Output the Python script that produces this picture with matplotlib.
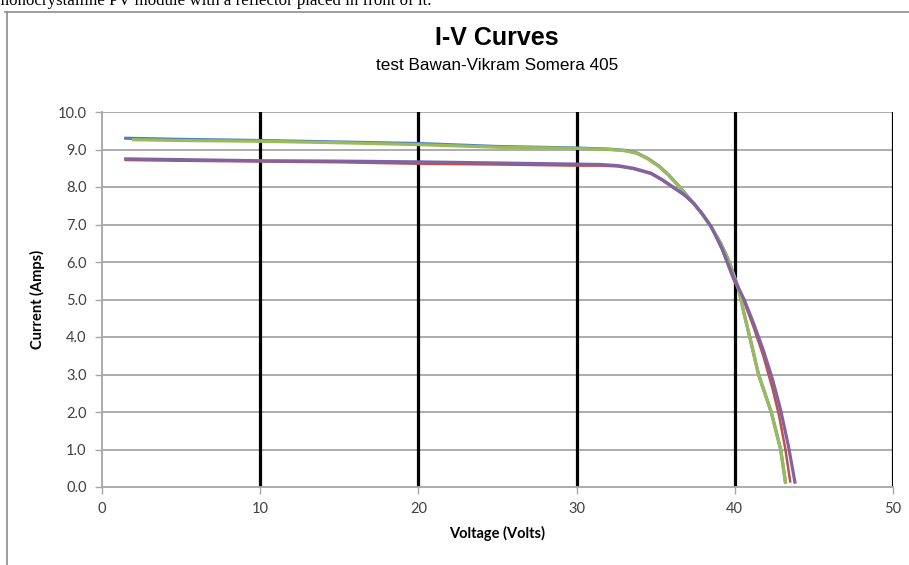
import matplotlib
matplotlib.use('Agg')
import matplotlib.pyplot as plt
from matplotlib.lines import Line2D

W, H = 909, 565

# upper curves (blue and green), lower curves (red and purple)
v_blue = [1.5, 5, 10, 15, 20, 25, 30, 32, 33, 33.8, 34.5, 35.2, 35.8, 36.5, 37.2, 37.9, 38.5, 39.1, 39.6, 40.2, 40.6, 41.0, 41.5, 42.3, 42.9, 43.2]
i_blue = [9.30, 9.27, 9.24, 9.20, 9.16, 9.08, 9.04, 9.01, 8.98, 8.91, 8.76, 8.56, 8.33, 8.01, 7.66, 7.31, 6.94, 6.51, 6.06, 5.34, 4.6, 3.9, 3.0, 2.0, 1.0, 0.13]
v_green = [2.0, 5, 10, 15, 20, 25, 30, 32, 33, 33.8, 34.5, 35.2, 35.8, 36.5, 37.2, 37.9, 38.5, 39.1, 39.6, 40.2, 40.6, 41.0, 41.5, 42.3, 42.9, 43.2]
i_green = [9.26, 9.24, 9.22, 9.18, 9.13, 9.06, 9.03, 9.00, 8.97, 8.90, 8.75, 8.55, 8.32, 8.00, 7.65, 7.30, 6.93, 6.50, 6.05, 5.33, 4.6, 3.9, 3.0, 2.0, 1.0, 0.13]
v_red = [1.5, 5, 10, 15, 20, 25, 30, 31.5, 32.6, 33.6, 34.7, 35.4, 36.1, 36.8, 37.4, 38.0, 38.5, 39.2, 39.9, 40.6, 41.2, 41.8, 42.4, 42.8, 43.2, 43.5]
i_red = [8.72, 8.70, 8.68, 8.66, 8.62, 8.60, 8.57, 8.57, 8.55, 8.48, 8.35, 8.18, 7.98, 7.78, 7.55, 7.24, 6.95, 6.33, 5.55, 4.93, 4.25, 3.5, 2.6, 1.9, 1.0, 0.15]
v_purple = [1.5, 5, 10, 15, 20, 25, 30, 31.5, 32.6, 33.6, 34.7, 35.4, 36.1, 36.8, 37.4, 38.0, 38.5, 39.2, 39.9, 40.6, 41.2, 41.8, 42.4, 42.9, 43.4, 43.8]
i_purple = [8.75, 8.73, 8.70, 8.69, 8.67, 8.64, 8.61, 8.60, 8.57, 8.50, 8.37, 8.20, 8.00, 7.80, 7.57, 7.25, 6.95, 6.35, 5.60, 4.99, 4.35, 3.65, 2.85, 2.05, 1.07, 0.13]

x_ticks = [0, 10, 20, 30, 40, 50]
y_ticks = [0, 1, 2, 3, 4, 5, 6, 7, 8, 9, 10]

fig = plt.figure(figsize=(W/100, H/100), dpi=100)
ax = fig.add_axes([102/W, (H-487)/H, (893-102)/W, (487-112)/H])

for y in y_ticks[1:]:
    ax.axhline(y, color='#a6a6a6', lw=1.3, zorder=1)
for x in x_ticks[1:]:
    ax.axvline(x, color='black', lw=2.3, zorder=2)

ax.plot(v_blue, i_blue, color='#4F81BD', lw=2.3, zorder=3, solid_joinstyle='round')
ax.plot(v_red, i_red, color='#C0504D', lw=1.8, zorder=3, solid_joinstyle='round')
ax.plot(v_green, i_green, color='#9BBB59', lw=2.3, zorder=4, solid_joinstyle='round')
ax.plot(v_purple, i_purple, color='#8064A2', lw=2.3, zorder=4, solid_joinstyle='round')

ax.set_xlim(0, 50)
ax.set_ylim(0, 10)
ax.set_xticks(x_ticks)
ax.set_yticks(y_ticks)
ax.set_yticklabels(['%.1f' % y for y in y_ticks])
ax.tick_params(colors='#a6a6a6', labelcolor='#404040', labelsize=10.5, length=5, width=1)
for lab in ax.get_xticklabels() + ax.get_yticklabels():
    lab.set_family('Lato')
ax.tick_params(axis='x', pad=6)
ax.tick_params(axis='y', pad=6)

for s in ['top', 'right']:
    ax.spines[s].set_visible(False)
for s in ['left', 'bottom']:
    ax.spines[s].set_color('#a6a6a6')
    ax.spines[s].set_linewidth(1.3)

ax.set_xlabel('Voltage (Volts)', fontsize=10.5, fontweight='bold', family='Lato', labelpad=7)
ax.set_ylabel('Current (Amps)', fontsize=10.5, fontweight='bold', family='Lato', labelpad=9)

fig.text(497/W, 1-38/H, 'I-V Curves', ha='center', va='center', fontsize=18,
         fontweight='bold', family=['Liberation Sans Narrow', 'Liberation Sans'])
fig.text(497/W, 1-65/H, 'test Bawan-Vikram Somera 405', ha='center', va='center',
         fontsize=12.3, family=['Liberation Sans Narrow', 'Liberation Sans'])

# cropped caption line at the very top and the chart frame
fig.text(431/W, 1-5/H, 'monocrystalline PV module with a reflector placed in front of it.',
         ha='right', va='baseline', fontsize=12.2, family='Liberation Serif')
fig.add_artist(Line2D([5/W, 1], [1-12/H, 1-12/H], color='#8c8c8c', lw=1.2))
fig.add_artist(Line2D([7/W, 7/W], [1-12/H, 0], color='#8c8c8c', lw=1.2))

plt.savefig('out.png', dpi=100)
